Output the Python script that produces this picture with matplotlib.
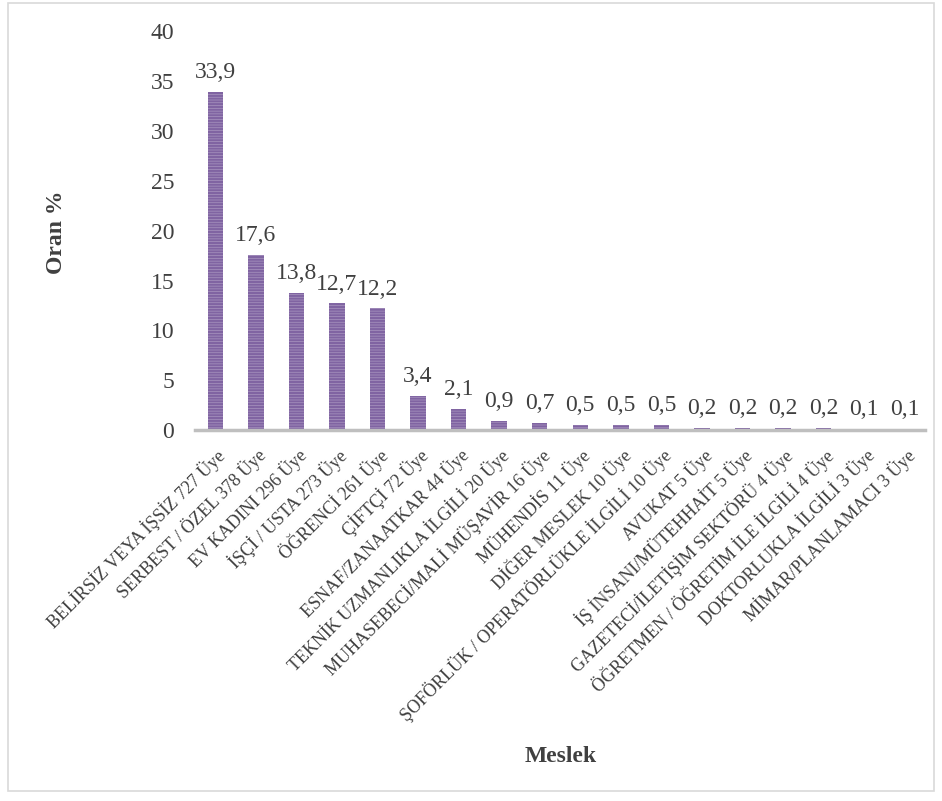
import matplotlib
matplotlib.use("Agg")
import matplotlib.pyplot as plt
from matplotlib.patches import Rectangle

plt.rcParams['font.family'] = ['Liberation Serif', 'DejaVu Serif']
plt.rcParams['hatch.linewidth'] = 1.6

categories = [
    "BELİRSİZ VEYA İŞSİZ 727 Üye",
    "SERBEST / ÖZEL 378 Üye",
    "EV KADINI 296 Üye",
    "İŞÇİ / USTA 273 Üye",
    "ÖĞRENCİ 261 Üye",
    "ÇİFTÇİ 72 Üye",
    "ESNAF/ZANAATKAR 44 Üye",
    "TEKNİK UZMANLIKLA İLGİLİ 20 Üye",
    "MUHASEBECİ/MALİ MÜŞAVİR 16 Üye",
    "MÜHENDİS 11 Üye",
    "DİĞER MESLEK 10 Üye",
    "ŞOFÖRLÜK / OPERATÖRLÜKLE İLGİLİ 10 Üye",
    "AVUKAT 5 Üye",
    "İŞ İNSANI/MÜTEHHAİT 5 Üye",
    "GAZETECİ/İLETİŞİM SEKTÖRÜ 4 Üye",
    "ÖĞRETMEN / ÖĞRETİM İLE İLGİLİ 4 Üye",
    "DOKTORLUKLA İLGİLİ 3 Üye",
    "MİMAR/PLANLAMACI 3 Üye",
]
values = [33.9, 17.6, 13.8, 12.7, 12.2, 3.4, 2.1, 0.9, 0.7, 0.5, 0.5, 0.5,
          0.2, 0.2, 0.2, 0.2, 0.1, 0.1]
yticks = [0, 5, 10, 15, 20, 25, 30, 35, 40]

fig = plt.figure(figsize=(9.42, 8.01), dpi=100)
ax = fig.add_axes([0.207, 0.463, 0.775, 0.498])

x = list(range(len(categories)))
bars = ax.bar(x, values, width=0.38, color='#B3A2C7', edgecolor='#8064A2',
              hatch='------', linewidth=0)
for xi, v in zip(x, values):
    ax.text(xi, v + 1.4, f"{v:.1f}".replace('.', ','), ha='center', va='baseline',
            fontsize=17, color='#404040')

ax.set_xlim(-0.5, len(categories) - 0.5)
ax.set_ylim(0, 40)
ax.set_yticks(yticks)
ax.set_yticklabels([str(t) for t in yticks], fontsize=17, color='#404040')
ax.tick_params(axis='y', length=0, pad=15)
ax.tick_params(axis='x', length=0, pad=11)
ax.set_xticks(x)
ax.set_xticklabels(categories, rotation=45, ha='right', va='top',
                   rotation_mode='anchor', fontsize=13, color='#404040')
for s in ['top', 'right', 'left']:
    ax.spines[s].set_visible(False)
ax.spines['bottom'].set_color('#BFBFBF')
ax.spines['bottom'].set_linewidth(2.5)

fig.text(0.0605, 1 - 232 / 801, 'Oran %', rotation=90, ha='center', va='center',
         fontsize=17, fontweight='bold', color='#404040')
fig.text(0.595, 1 - 757 / 801, 'Meslek', ha='center', va='center', fontsize=17,
         fontweight='bold', color='#404040')

fig.patches.append(Rectangle((0.009, 0.012), 0.983, 0.984, transform=fig.transFigure,
                             fill=False, edgecolor='#D9D9D9', linewidth=1.2))

fig.savefig('out.png', dpi=100)
